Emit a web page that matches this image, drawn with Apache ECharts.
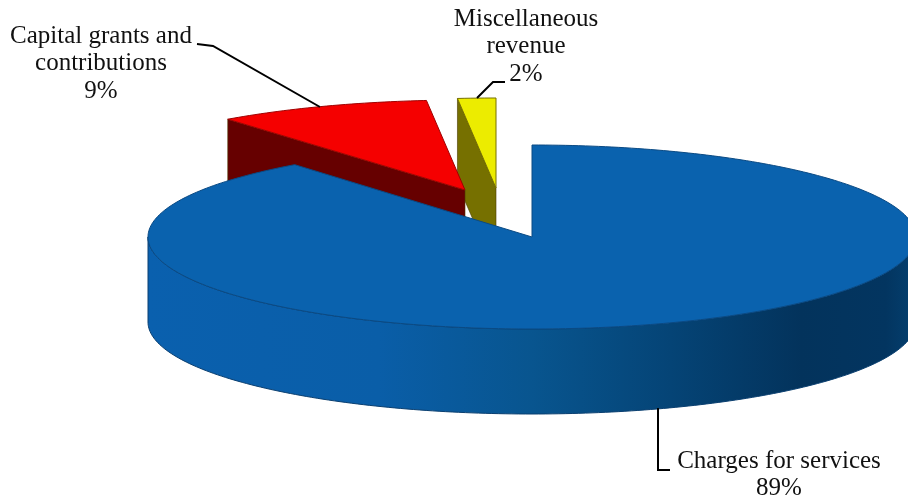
<!DOCTYPE html>
<html>
<head>
<meta charset="utf-8">
<style>html,body{margin:0;padding:0;background:#fff}#chart{width:908px;height:501px}</style>
<script src="https://cdn.jsdelivr.net/npm/echarts@6/dist/echarts.min.js"></script>
</head>
<body>
<div id="chart"></div>
<script>
// Data, clockwise from 12 o'clock
var categories = ['Charges for services', 'Capital grants and contributions', 'Miscellaneous revenue'];
var shareValues = [89.4, 9.0, 1.6];
var percentLabels = ['89%', '9%', '2%'];

// Presentation
var labelLines = [
  ['Charges for services', '89%'],
  ['Capital grants and', 'contributions', '9%'],
  ['Miscellaneous', 'revenue', '2%']
];
var labelCenters = [[779, 461], [101, 36], [526, 19]];
var labelLineHeight = 27.5;
var leaders = [
  [[658, 408], [658, 470], [670, 470]],
  [[197, 44], [213, 46], [320, 107]],
  [[477, 98], [493, 82], [505, 82]]
];
var pie = { cx: 532, cy: 237, rx: 384, ry: 92, depth: 85 };
var sliceOffsets = [[0, 0], [-67, -47], [-36, -49]];
var sliceRy = [92, 90, 90];
var topColors = ['#0a62ae', '#f50000', '#ecec00'];
var wallColors = [null, '#660000', '#767000'];

var total = shareValues.reduce(function (a, b) { return a + b; }, 0);
function pt(cx, cy, ry, deg, dy) {
  var r = deg * Math.PI / 180;
  return [cx + pie.rx * Math.sin(r), cy - ry * Math.cos(r) + (dy || 0)];
}
function startAngle(i) {
  var s = 0;
  for (var k = 0; k < i; k++) s += shareValues[k];
  return s / total * 360;
}
function renderSlice(params, api) {
  var i = api.value(0);
  var a0 = startAngle(i);
  var a1 = a0 + api.value(1) / total * 360;
  var cx = pie.cx + sliceOffsets[i][0];
  var cy = pie.cy + sliceOffsets[i][1];
  var ry = sliceRy[i];
  var children = [];
  var top = [];
  if (a1 - a0 < 359) top.push([cx, cy]);
  for (var a = a0; a < a1; a += 1) top.push(pt(cx, cy, ry, a));
  top.push(pt(cx, cy, ry, a1));

  if (i === 0) {
    // outer rim: visible from 90 deg to the left extreme at 270 deg
    var rim = [];
    for (var b = 90; b <= 270; b += 1) rim.push(pt(cx, cy, ry, b));
    for (var c = 270; c >= 90; c -= 1) rim.push(pt(cx, cy, ry, c, pie.depth));
    children.push({
      type: 'polygon', shape: { points: rim },
      style: {
        stroke: '#0a3f70', lineWidth: 1,
        fill: {
          type: 'linear', x: 0, y: 0, x2: 1, y2: 0,
          colorStops: [
            { offset: 0, color: '#0a60ae' },
            { offset: 0.3, color: '#0a5ea8' },
            { offset: 0.5, color: '#08558f' },
            { offset: 0.68, color: '#054476' },
            { offset: 0.85, color: '#03335c' },
            { offset: 0.96, color: '#033560' },
            { offset: 1, color: '#044070' }
          ]
        }
      }
    });
  } else {
    // front-facing radial wall at the start angle
    var o = pt(cx, cy, ry, a0);
    children.push({
      type: 'polygon',
      shape: { points: [o, [cx, cy], [cx, cy + pie.depth], [o[0], o[1] + pie.depth]] },
      style: { fill: wallColors[i], stroke: '#4a3a00', lineWidth: 0.6 }
    });
  }
  children.push({
    type: 'polygon', shape: { points: top },
    style: {
      fill: topColors[i],
      stroke: i === 0 ? '#0a4a84' : (i === 1 ? '#a00000' : '#777000'),
      lineWidth: 1
    }
  });
  return { type: 'group', children: children };
}

var graphics = [];
labelLines.forEach(function (lines, i) {
  lines.forEach(function (t, j) {
    graphics.push({
      type: 'text',
      x: labelCenters[i][0],
      y: labelCenters[i][1] + j * labelLineHeight,
      style: {
        text: t, fill: '#111',
        font: '25px "Liberation Serif"',
        textAlign: 'center', textVerticalAlign: 'middle'
      }
    });
  });
  graphics.push({
    type: 'polyline',
    shape: { points: leaders[i] },
    style: { stroke: '#000', lineWidth: 2, fill: null },
    z: 10
  });
});

// Painted back to front: last slice first
var paintData = categories.map(function (name, i) {
  return { name: name, value: [i, shareValues[i], percentLabels[i]] };
}).reverse();

var chart = echarts.init(document.getElementById('chart'), null, { renderer: 'canvas' });
chart.setOption({
  animation: false,
  backgroundColor: '#fff',
  tooltip: { show: false },
  series: [{
    type: 'custom',
    coordinateSystem: 'none',
    renderItem: renderSlice,
    data: paintData,
    silent: true
  }],
  graphic: graphics
});
</script>
</body>
</html>
